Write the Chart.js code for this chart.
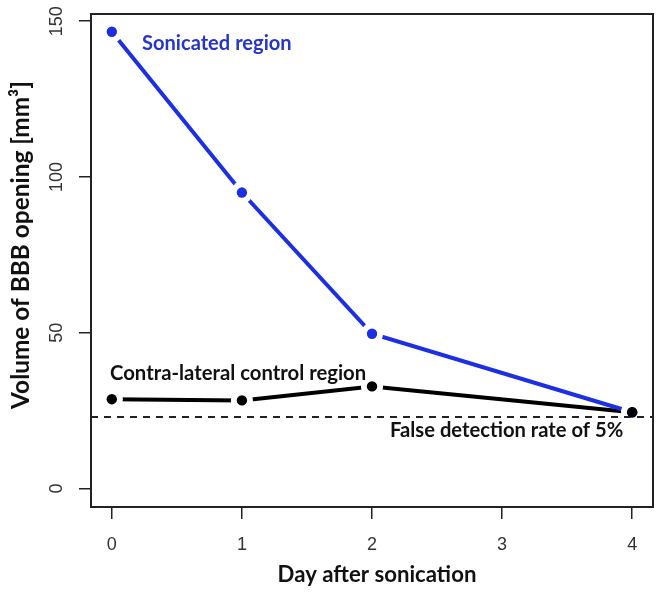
<!DOCTYPE html>
<html>
<head>
<meta charset="utf-8">
<script src="https://cdn.jsdelivr.net/npm/chart.js@4.4.1/dist/chart.umd.min.js"></script>
<style>
  html, body { margin: 0; padding: 0; background: #fff; }
  canvas { display: block; }
</style>
</head>
<body>
<canvas id="chart" width="664" height="594"></canvas>
<script>
// values
const days = [0, 1, 2, 4];
const sonicated = [146.6, 95.0, 49.7, 24.5];
const contralateral = [28.7, 28.3, 32.8, 24.5];
const falseDetectionRate = 23.0;
const xTicks = [0, 1, 2, 3, 4];
const yTicks = [0, 50, 100, 150];
const xRange = [-0.16, 4.16];
const yRange = [-5.9, 152.3];

const BLUE = '#1c2fe2';
const BLUE_TEXT = '#2536c8';
const INK = '#111';
const LABEL_FONT = 'Lato';
const TICK_FONT = '"Liberation Sans", Arial, sans-serif';

const toPoints = ys => days.map((d, i) => ({ x: d, y: ys[i] }));

// pick a font size so a bold label matches the width it has in the figure
const measureCtx = document.createElement('canvas').getContext('2d');
function fitSize(text, width) {
    measureCtx.font = 'bold 100px ' + LABEL_FONT;
    return 100 * width / measureCtx.measureText(text).width;
}

const xTitle = 'Day after sonication';
const yTitle = 'Volume of BBB opening [mm³]';

const notes = [
    { text: 'Sonicated region', x: 142, y: 50, w: 150, color: BLUE_TEXT },
    { text: 'Contra-lateral control region', x: 110, y: 380, w: 257, color: INK },
    { text: 'False detection rate of 5%', x: 390, y: 437, w: 233, color: INK }
];

const overlay = {
    id: 'overlay',
    afterDraw(chart) {
        const { ctx, chartArea: a } = chart;
        const yScale = chart.scales.y;

        // plot frame
        ctx.save();
        ctx.strokeStyle = '#222';
        ctx.lineWidth = 2;
        ctx.strokeRect(a.left, a.top, a.right - a.left, a.bottom - a.top);

        // rotated y tick labels, R style
        ctx.fillStyle = '#333';
        ctx.font = '18px ' + TICK_FONT;
        ctx.textAlign = 'center';
        ctx.textBaseline = 'alphabetic';
        yScale.ticks.forEach(t => {
            const py = yScale.getPixelForValue(t.value);
            ctx.save();
            ctx.translate(62, py);
            ctx.rotate(-Math.PI / 2);
            ctx.fillText(String(t.value), 0, 0);
            ctx.restore();
        });

        // y axis title
        ctx.fillStyle = INK;
        ctx.font = 'bold ' + fitSize(yTitle, 328).toFixed(1) + 'px ' + LABEL_FONT;
        ctx.save();
        ctx.translate(29, 245);
        ctx.rotate(-Math.PI / 2);
        ctx.fillText(yTitle, 0, 0);
        ctx.restore();

        // x axis title, centred where the figure has it
        ctx.font = 'bold ' + fitSize(xTitle, 199).toFixed(1) + 'px ' + LABEL_FONT;
        ctx.fillText(xTitle, 377, 582);

        // in-plot annotations
        ctx.textAlign = 'left';
        notes.forEach(n => {
            ctx.fillStyle = n.color;
            ctx.font = 'bold ' + fitSize(n.text, n.w).toFixed(1) + 'px ' + LABEL_FONT;
            ctx.fillText(n.text, n.x, n.y);
        });
        ctx.restore();
    }
};

const axisGrid = {
    display: true,
    drawOnChartArea: false,
    drawTicks: true,
    tickLength: 12,
    color: '#222',
    lineWidth: 1.5
};

new Chart(document.getElementById('chart'), {
    type: 'line',
    data: {
        datasets: [
            // connecting lines
            { data: toPoints(sonicated), borderColor: BLUE, borderWidth: 4, pointRadius: 0, order: 5 },
            { data: toPoints(contralateral), borderColor: '#000', borderWidth: 4, pointRadius: 0, order: 5 },
            // white halos give the type="b" gaps around each point
            { data: toPoints(sonicated), showLine: false, pointRadius: 11, pointBorderWidth: 0, pointBackgroundColor: '#fff', order: 4 },
            { data: toPoints(contralateral), showLine: false, pointRadius: 11, pointBorderWidth: 0, pointBackgroundColor: '#fff', order: 4 },
            // 5% false detection threshold
            {
                data: [{ x: xRange[0], y: falseDetectionRate }, { x: xRange[1], y: falseDetectionRate }],
                borderColor: '#222', borderWidth: 2, borderDash: [7, 6], pointRadius: 0, order: 3
            },
            // points
            { data: toPoints(sonicated), showLine: false, pointRadius: 5.2, pointBorderWidth: 0, pointBackgroundColor: BLUE, order: 2 },
            { data: toPoints(contralateral), showLine: false, pointRadius: 5.2, pointBorderWidth: 0, pointBackgroundColor: '#000', order: 1 }
        ]
    },
    options: {
        responsive: false,
        devicePixelRatio: 1,
        animation: false,
        events: [],
        layout: { padding: { left: 0, top: 14, right: 8, bottom: 0 } },
        plugins: { legend: { display: false }, tooltip: { enabled: false } },
        scales: {
            x: {
                type: 'linear',
                min: xRange[0],
                max: xRange[1],
                afterBuildTicks: s => { s.ticks = xTicks.map(v => ({ value: v })); },
                afterFit: s => { s.height = 87; },
                grid: axisGrid,
                border: { display: false },
                ticks: {
                    padding: 15,
                    maxRotation: 0,
                    color: '#333',
                    font: { family: TICK_FONT, size: 18 }
                }
            },
            y: {
                type: 'linear',
                min: yRange[0],
                max: yRange[1],
                afterBuildTicks: s => { s.ticks = yTicks.map(v => ({ value: v })); },
                afterFit: s => { s.width = 91; },
                grid: axisGrid,
                border: { display: false },
                ticks: { display: false }
            }
        }
    },
    plugins: [overlay]
});
</script>
</body>
</html>
